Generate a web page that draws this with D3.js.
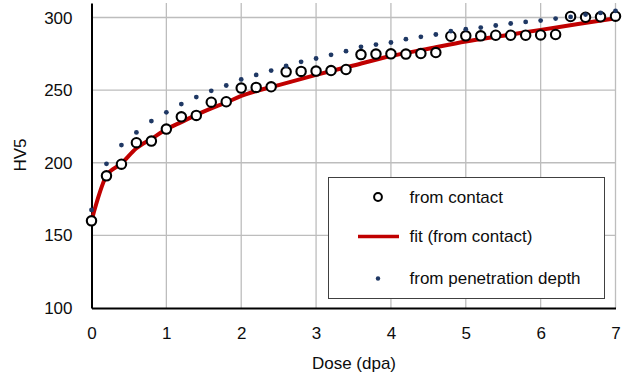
<!DOCTYPE html>
<html>
<head>
<meta charset="utf-8">
<script src="https://cdn.jsdelivr.net/npm/d3@7"></script>
<style>
  html, body { margin: 0; padding: 0; background: #fff; }
  svg { display: block; font-family: "Liberation Sans", Arial, sans-serif; }
</style>
</head>
<body>
<svg id="chart" width="629" height="380"></svg>
<script>
// ---- data ----
const contactDose = [0,0.2,0.4,0.6,0.8,1,1.2,1.4,1.6,1.8,2,2.2,2.4,2.6,2.8,3,3.2,3.4,3.6,3.8,4,4.2,4.4,4.6,4.8,5,5.2,5.4,5.6,5.8,6,6.2,6.4,6.6,6.8,7];
const contactHV = [160,191,199,213.8,214.9,223.2,231.6,232.6,241.7,242,251.4,251.9,252.3,262.6,262.9,263.1,263.5,264.2,274.5,274.8,275,274.8,275.2,275.9,287.1,287.4,287.4,287.8,287.8,287.8,288,288.3,300.7,300.2,300.5,300.9];
const penetrationHV = [167.5,199.3,212.2,220.9,228.7,234.7,240.4,245.2,249.5,253.2,257.4,260.5,263.5,266.7,269.5,271.8,274.3,276.8,279.8,281.4,282.8,285.1,286.7,288.3,290.6,292,293.1,294.5,295.9,297,297.9,299.3,300.4,302,303.2,304.6];
const fitDose = [0,0.2,0.4,0.6,0.8,1,1.2,1.4,1.6,1.8,2,2.5,3,3.5,4,4.5,5,5.5,6,6.5,7];
const fitHV = [160,191,199.5,210,216.5,223,228,233,237.5,241.5,246,253.5,260.5,267,273.5,278.5,283.5,287.5,291.5,295.5,299.5];
const xTicks = [0,1,2,3,4,5,6,7];
const yTicks = [100,150,200,250,300];
const legendLabels = ["from contact","fit (from contact)","from penetration depth"];
const xTitle = "Dose (dpa)";
const yTitle = "HV5";

// ---- chart ----
const svg = d3.select("#chart");
const x = d3.scaleLinear().domain([0, 7]).range([91.5, 615.5]);
const y = d3.scaleLinear().domain([100, 310]).range([308, 3]);
const fs = 17;
const txt = "#0d0d0d";

const gridColor = "#bdbdbd";
svg.append("g").selectAll("line").data(yTicks.filter(d => d > 100)).join("line")
  .attr("x1", x(0)).attr("x2", x(7))
  .attr("y1", d => y(d)).attr("y2", d => y(d))
  .attr("stroke", gridColor).attr("stroke-width", 1.3);
svg.append("g").selectAll("line").data(xTicks.filter(d => d > 0)).join("line")
  .attr("x1", d => x(d)).attr("x2", d => x(d))
  .attr("y1", y(310)).attr("y2", y(100))
  .attr("stroke", gridColor).attr("stroke-width", 1.3);

const xAxis = d3.axisBottom(x).tickValues(xTicks).tickSize(0).tickPadding(18).tickFormat(d3.format("d"));
const gx = svg.append("g").attr("transform", `translate(0,${y(100)})`).call(xAxis);
gx.select(".domain").attr("stroke", "#000").attr("stroke-width", 2);
gx.selectAll("text").attr("font-size", fs).attr("fill", txt).attr("font-family", "Liberation Sans, Arial, sans-serif")
  .attr("dy", null).attr("y", 25.5).attr("dominant-baseline", "central");

const yAxis = d3.axisLeft(y).tickValues(yTicks).tickSize(0).tickPadding(19).tickFormat(d3.format("d"));
const gy = svg.append("g").attr("transform", `translate(${x(0)},0)`).call(yAxis);
gy.select(".domain").attr("stroke", "#000").attr("stroke-width", 2);
gy.selectAll("text").attr("font-size", fs).attr("fill", txt).attr("font-family", "Liberation Sans, Arial, sans-serif")
  .attr("dy", null).attr("dominant-baseline", "central");

svg.append("text").attr("x", 354).attr("y", 363).attr("text-anchor", "middle")
  .attr("dominant-baseline", "central").attr("font-size", fs).attr("fill", txt).text(xTitle);
svg.append("text").attr("transform", "translate(20,155) rotate(-90)").attr("text-anchor", "middle")
  .attr("dominant-baseline", "central").attr("font-size", fs).attr("fill", txt).text(yTitle);

// fit line
const fitData = fitDose.map((d, i) => [d, fitHV[i]]);
const line = d3.line().x(d => x(d[0])).y(d => y(d[1])).curve(d3.curveMonotoneX);
svg.append("path").datum(fitData).attr("d", line)
  .attr("fill", "none").attr("stroke", "#c00000").attr("stroke-width", 4).attr("stroke-linejoin", "round");

// contact circles
const contactData = contactDose.map((d, i) => [d, contactHV[i]]);
svg.append("g").selectAll("circle").data(contactData).join("circle")
  .attr("cx", d => x(d[0])).attr("cy", d => y(d[1])).attr("r", 4.7)
  .attr("fill", "#fff").attr("stroke", "#000").attr("stroke-width", 2.1);

// penetration dots
const penData = contactDose.map((d, i) => [d, penetrationHV[i]]);
svg.append("g").selectAll("circle").data(penData).join("circle")
  .attr("cx", d => x(d[0])).attr("cy", d => y(d[1])).attr("r", 2.4)
  .attr("fill", "#1f3864");

// legend
const lg = svg.append("g");
lg.append("rect").attr("x", 328.5).attr("y", 177.5).attr("width", 276).attr("height", 121)
  .attr("fill", "#fff").attr("stroke", "#404040").attr("stroke-width", 1);
const rowsY = [197, 236.5, 278.5];
lg.append("circle").attr("cx", 378).attr("cy", rowsY[0]).attr("r", 3.9)
  .attr("fill", "#fff").attr("stroke", "#000").attr("stroke-width", 2);
lg.append("line").attr("x1", 358).attr("x2", 399).attr("y1", rowsY[1]).attr("y2", rowsY[1])
  .attr("stroke", "#c00000").attr("stroke-width", 3.5);
lg.append("circle").attr("cx", 378).attr("cy", rowsY[2]).attr("r", 2.2).attr("fill", "#1f3864");
lg.selectAll("text.lt").data(legendLabels).join("text").attr("class", "lt")
  .attr("x", 409.5).attr("y", (d, i) => rowsY[i]).attr("dominant-baseline", "central")
  .attr("font-size", fs).attr("fill", txt).text(d => d);
</script>
</body>
</html>
